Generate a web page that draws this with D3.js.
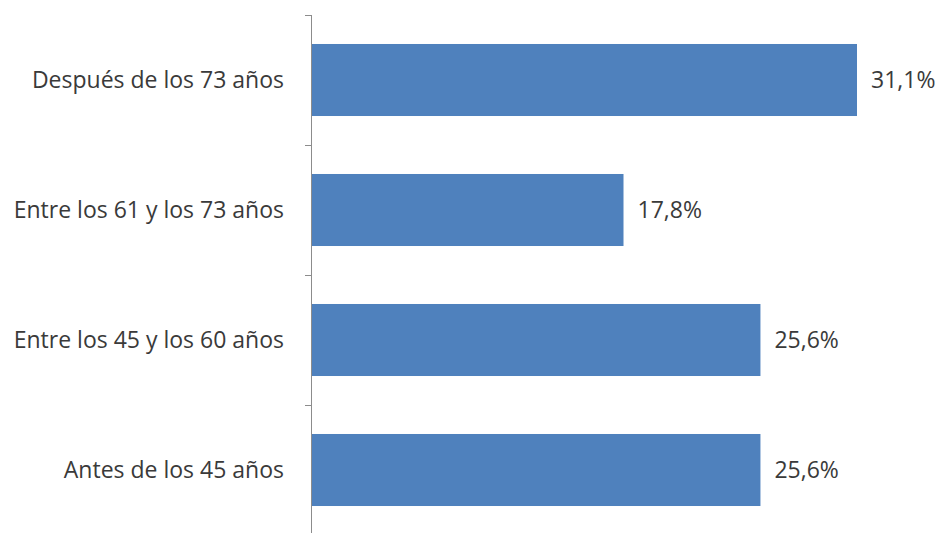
<!DOCTYPE html>
<html>
<head>
<meta charset="utf-8">
<script src="https://cdn.jsdelivr.net/npm/d3@7"></script>
<style>
  html, body { margin: 0; padding: 0; background: #fff; }
  svg { display: block; }
</style>
</head>
<body>
<svg id="chart" width="943" height="533"></svg>
<script>
const categories = ["Después de los 73 años", "Entre los 61 y los 73 años", "Entre los 45 y los 60 años", "Antes de los 45 años"];
const values = [31.1, 17.8, 25.6, 25.6];
const valueLabels = ["31,1%", "17,8%", "25,6%", "25,6%"];

const svg = d3.select("#chart");
const font = "'Open Sans', 'Noto Sans', sans-serif";

const x = d3.scaleLinear().domain([0, 31.1]).range([311, 857]);
const y = d3.scaleBand().domain(categories).range([15, 535]).paddingInner(0.446).paddingOuter(0.223);

// bars
svg.append("g").selectAll("rect").data(categories).join("rect")
  .attr("x", x(0))
  .attr("y", d => y(d))
  .attr("width", (d, i) => x(values[i]) - x(0))
  .attr("height", y.bandwidth())
  .attr("fill", "#4F81BD");

// axis line
const axisColor = "#8c8c8c";
svg.append("line")
  .attr("x1", 311.5).attr("x2", 311.5)
  .attr("y1", 15).attr("y2", 535)
  .attr("stroke", axisColor).attr("stroke-width", 1);

// tick marks at category boundaries
const boundaries = categories.map(c => y(c) - y.step() * y.paddingInner() / 2).concat([535]);
svg.append("g").selectAll("line").data(boundaries).join("line")
  .attr("x1", 305).attr("x2", 311)
  .attr("y1", d => Math.round(d) + 0.5).attr("y2", d => Math.round(d) + 0.5)
  .attr("stroke", axisColor).attr("stroke-width", 1);

// category labels
svg.append("g").selectAll("text").data(categories).join("text")
  .attr("x", 284)
  .attr("y", d => y(d) + y.bandwidth() / 2)
  .attr("dy", "0.35em")
  .attr("text-anchor", "end")
  .attr("font-family", font)
  .attr("font-size", 23)
  .attr("fill", "#3a3a3a")
  .text(d => d);

// value labels
svg.append("g").selectAll("text").data(categories).join("text")
  .attr("x", (d, i) => x(values[i]) + 14)
  .attr("y", d => y(d) + y.bandwidth() / 2)
  .attr("dy", "0.35em")
  .attr("text-anchor", "start")
  .attr("font-family", font)
  .attr("font-size", 23)
  .attr("fill", "#3a3a3a")
  .text((d, i) => valueLabels[i]);
</script>
</body>
</html>
